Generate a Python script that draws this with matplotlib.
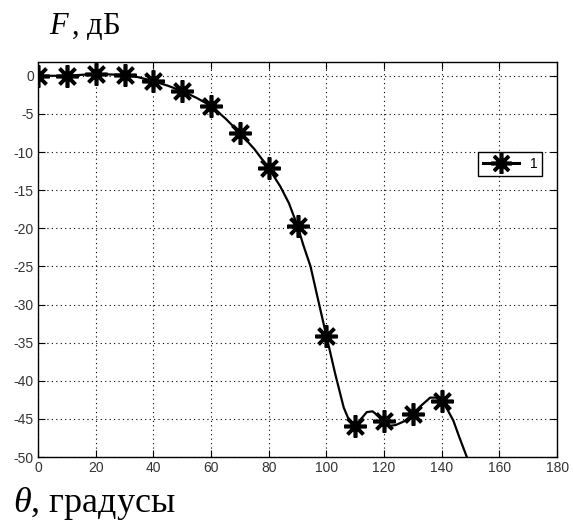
import matplotlib
matplotlib.use("Agg")
import matplotlib.pyplot as plt

plt.rcParams['mathtext.fontset'] = 'custom'
plt.rcParams['mathtext.rm'] = 'Liberation Serif'
plt.rcParams['mathtext.it'] = 'Liberation Serif:italic'
plt.rcParams['axes.unicode_minus'] = False

# marker points (every 10 degrees)
marker_deg = [0, 10, 20, 30, 40, 50, 60, 70, 80, 90, 100, 110, 120, 130, 140]
marker_db = [0.0, 0.0, 0.25, 0.1, -0.7, -2.0, -3.95, -7.5, -12.1, -19.7,
             -34.1, -45.9, -45.3, -44.4, -42.6]

# curve
curve_deg = [0, 10, 20, 30, 35, 40, 45, 50, 55, 60, 65, 70, 75, 80, 84, 87,
             90, 92, 94.5, 97.5, 100, 103, 106, 108, 110, 112, 114, 116, 118,
             120, 122, 124, 127, 130, 133, 136, 138, 140, 142, 144, 146,
             148.7, 150]
curve_db = [0.0, 0.0, 0.25, 0.1, -0.2, -0.7, -1.3, -2.0, -2.9, -3.95, -5.6,
            -7.5, -9.6, -12.1, -14.5, -16.7, -19.7, -22.2, -25.0, -30.0,
            -34.1, -39.0, -43.5, -45.3, -45.9, -45.0, -44.1, -44.0, -44.6,
            -45.3, -45.9, -45.8, -45.3, -44.4, -43.2, -42.2, -42.2, -42.6,
            -43.8, -45.2, -47.3, -50.0, -51.5]

x_ticks = [0, 20, 40, 60, 80, 100, 120, 140, 160, 180]
y_ticks = [0, -5, -10, -15, -20, -25, -30, -35, -40, -45, -50]

fig = plt.figure(figsize=(5.73, 5.26), dpi=100)
ax = fig.add_axes([0.0663, 0.131, 0.906, 0.751])

ax.plot(curve_deg, curve_db, color='black', lw=1.6)
ax.plot(marker_deg, marker_db, ls='none', marker=(8, 2, 0), ms=16,
        mew=2.6, color='black')
# legend handle: line + marker
ax.plot([], [], color='black', lw=2.2, marker=(8, 2, 0), ms=15, mew=2.6,
        label='1')

ax.set_xlim(0, 180)
ax.set_ylim(-50, 1.8)
ax.set_xticks(x_ticks)
ax.set_yticks(y_ticks)
ax.grid(True, color='black', ls=(0, (1, 3)), lw=0.8)
ax.tick_params(direction='in', top=True, right=True, length=5, width=0.8,
               labelsize=10, colors='black', pad=3)
for lab in ax.get_xticklabels() + ax.get_yticklabels():
    lab.set_fontfamily('Liberation Sans')
    lab.set_color('#333333')
for s in ax.spines.values():
    s.set_linewidth(1.0)
    s.set_color('black')

leg = ax.legend(loc='upper right', bbox_to_anchor=(0.985, 0.79),
                fancybox=False, framealpha=1, edgecolor='black',
                handlelength=2.6, borderpad=0.35,
                prop={'family': 'Liberation Sans', 'size': 10})
leg.get_frame().set_linewidth(1.0)

fig.text(0.085, 0.935, r'$F\,$, дБ', fontsize=22, family='Liberation Serif',
         va='baseline', ha='left')
fig.text(0.022, 0.027, r'$\theta$, градусы', fontsize=26,
         family='Liberation Serif', va='baseline', ha='left')

fig.savefig('out.png', dpi=100)
